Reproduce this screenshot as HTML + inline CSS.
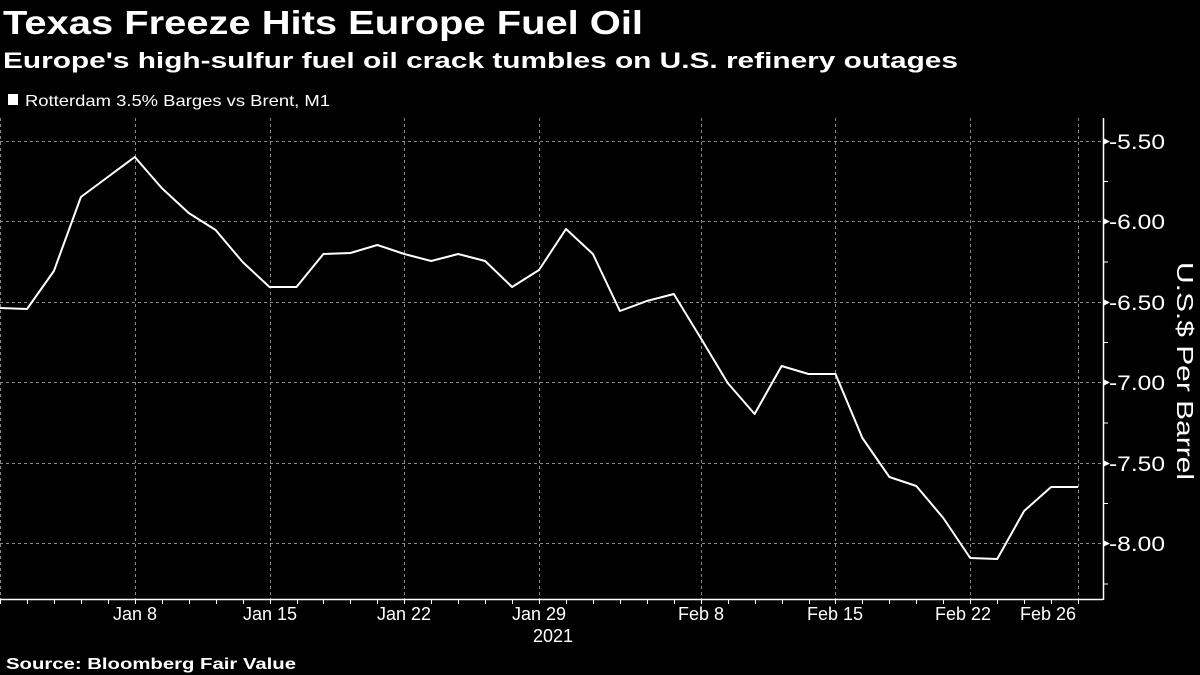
<!DOCTYPE html>
<html><head><meta charset="utf-8"><style>
body{margin:0;background:#000;width:1200px;height:675px;overflow:hidden}
svg{display:block}
</style></head><body>
<svg width="1200" height="675" xmlns="http://www.w3.org/2000/svg" font-family="Liberation Sans, sans-serif" fill="#fff">
<text x="3" y="34" font-size="33" font-weight="bold" textLength="640" lengthAdjust="spacingAndGlyphs">Texas Freeze Hits Europe Fuel Oil</text>
<text x="3" y="68" font-size="22" font-weight="bold" textLength="955" lengthAdjust="spacingAndGlyphs">Europe's high-sulfur fuel oil crack tumbles on U.S. refinery outages</text>
<rect x="8" y="94" width="10" height="11"/>
<text x="25" y="106" font-size="16" textLength="305" lengthAdjust="spacingAndGlyphs">Rotterdam 3.5% Barges vs Brent, M1</text>
<g stroke="#888" stroke-width="1" stroke-dasharray="3,3">
<line x1="0" x2="1103" y1="141.5" y2="141.5"/><line x1="0" x2="1103" y1="221.5" y2="221.5"/>
<line x1="0" x2="1103" y1="302.5" y2="302.5"/><line x1="0" x2="1103" y1="382.5" y2="382.5"/>
<line x1="0" x2="1103" y1="463.5" y2="463.5"/><line x1="0" x2="1103" y1="543.5" y2="543.5"/>
<line x1="0.5" x2="0.5" y1="118" y2="599"/>
<line x1="135.5" x2="135.5" y1="118" y2="599"/><line x1="270.5" x2="270.5" y1="118" y2="599"/>
<line x1="404.5" x2="404.5" y1="118" y2="599"/><line x1="539.5" x2="539.5" y1="118" y2="599"/>
<line x1="701.5" x2="701.5" y1="118" y2="599"/><line x1="835.5" x2="835.5" y1="118" y2="599"/>
<line x1="970.5" x2="970.5" y1="118" y2="599"/><line x1="1078.5" x2="1078.5" y1="118" y2="599"/>
</g>
<g stroke="#fff" stroke-width="1.5">
<line x1="0" x2="1103" y1="599.5" y2="599.5"/>
<line x1="1103.5" x2="1103.5" y1="118" y2="600"/>
</g>
<path stroke="#fff" stroke-width="1" d="M0.5 599v5M27.5 599v5M54.5 599v5M81.5 599v5M108.5 599v5M135.5 599v5M162.5 599v5M189.5 599v5M216.5 599v5M243.5 599v5M270.5 599v5M297.5 599v5M323.5 599v5M350.5 599v5M377.5 599v5M404.5 599v5M431.5 599v5M458.5 599v5M485.5 599v5M512.5 599v5M539.5 599v5M566.5 599v5M593.5 599v5M620.5 599v5M647.5 599v5M674.5 599v5M701.5 599v5M728.5 599v5M755.5 599v5M782.5 599v5M809.5 599v5M835.5 599v5M862.5 599v5M889.5 599v5M916.5 599v5M943.5 599v5M970.5 599v5M997.5 599v5M1024.5 599v5M1051.5 599v5M1078.5 599v5"/>
<g font-size="21" text-anchor="start">
<text x="1109" y="149" textLength="56" lengthAdjust="spacingAndGlyphs">-5.50</text><text x="1109" y="229" textLength="56" lengthAdjust="spacingAndGlyphs">-6.00</text>
<text x="1109" y="310" textLength="56" lengthAdjust="spacingAndGlyphs">-6.50</text><text x="1109" y="390" textLength="56" lengthAdjust="spacingAndGlyphs">-7.00</text>
<text x="1109" y="471" textLength="56" lengthAdjust="spacingAndGlyphs">-7.50</text><text x="1109" y="551" textLength="56" lengthAdjust="spacingAndGlyphs">-8.00</text>
</g>
<g>
<polygon points="1103,138 1110,141.5 1103,145"/><polygon points="1103,218 1110,221.5 1103,225"/>
<polygon points="1103,299 1110,302.5 1103,306"/><polygon points="1103,379 1110,382.5 1103,386"/>
<polygon points="1103,460 1110,463.5 1103,467"/><polygon points="1103,540 1110,543.5 1103,547"/>
</g>
<g stroke="#fff"><line x1="1103" x2="1108" y1="181.5" y2="181.5"/><line x1="1103" x2="1108" y1="262" y2="262"/><line x1="1103" x2="1108" y1="342.5" y2="342.5"/><line x1="1103" x2="1108" y1="423" y2="423"/><line x1="1103" x2="1108" y1="503.5" y2="503.5"/><line x1="1103" x2="1108" y1="584" y2="584"/></g>
<text transform="translate(1177,371) rotate(90)" font-size="23" text-anchor="middle" textLength="218" lengthAdjust="spacingAndGlyphs">U.S.$ Per Barrel</text>
<g font-size="18" text-anchor="middle">
<text x="135" y="620">Jan 8</text><text x="270" y="620">Jan 15</text><text x="404" y="620">Jan 22</text>
<text x="539" y="620">Jan 29</text><text x="701" y="620">Feb 8</text><text x="835" y="620">Feb 15</text>
<text x="963" y="620">Feb 22</text><text x="1048" y="620">Feb 26</text>
<text x="553" y="642">2021</text>
</g>
<text x="6" y="669" font-size="16" font-weight="bold" textLength="290" lengthAdjust="spacingAndGlyphs">Source: Bloomberg Fair Value</text>
<polyline fill="none" stroke="#fff" stroke-width="2" stroke-linejoin="round" points="0,308 27,309 53.9,271 80.9,197 107.8,177 134.8,157 161.7,188 188.7,213 215.6,230 242.6,262 269.5,287 296.5,287 323.4,254 350.4,253 377.3,245 404.3,254 431.2,261 458.2,254 485.1,261 512.1,287 539,270 566,229 592.9,254 619.9,311 646.8,301 673.8,294 700.7,338 727.7,383 754.6,414 781.6,366 808.5,374 835.5,374 862.4,438 889.4,477 916.3,486 943.3,518 970.2,558 997.2,559 1024.1,511 1051.1,487 1078,487"/>
</svg>
</body></html>
